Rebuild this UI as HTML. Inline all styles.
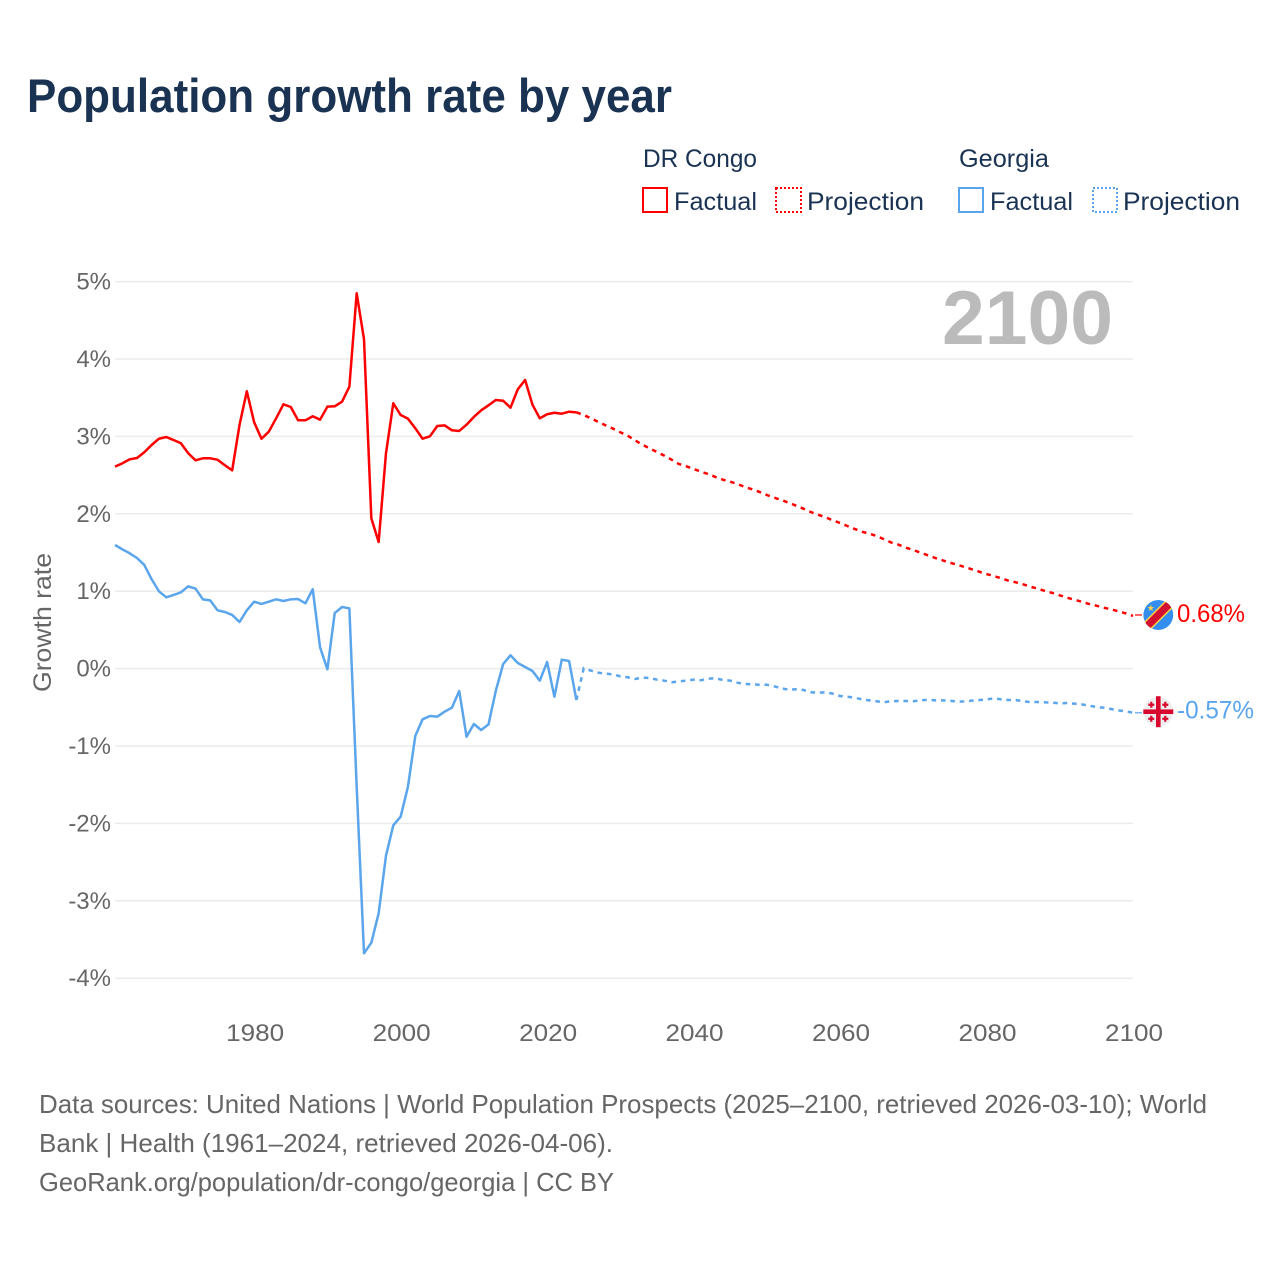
<!DOCTYPE html>
<html lang="en">
<head>
<meta charset="utf-8">
<title>Population growth rate by year</title>
<style>
html,body{margin:0;padding:0;background:#fff;}
svg{display:block;font-family:"Liberation Sans",sans-serif;}
</style>
</head>
<body>
<svg id="chart" xmlns="http://www.w3.org/2000/svg" width="1280" height="1280" viewBox="0 0 1280 1280">
  <rect x="0" y="0" width="1280" height="1280" fill="#fff"/>
  <text x="27" y="112" font-size="47" font-weight="bold" fill="#1a3353" textLength="645" lengthAdjust="spacingAndGlyphs">Population growth rate by year</text>

  <g font-size="25" fill="#1a3353">
    <text x="643" y="167" textLength="114" lengthAdjust="spacingAndGlyphs">DR Congo</text>
    <text x="959" y="167" textLength="90" lengthAdjust="spacingAndGlyphs">Georgia</text>
    <g>
      <rect x="643" y="188" width="24" height="24" fill="none" stroke="#ff0000" stroke-width="2"/>
      <text x="674" y="210" textLength="83" lengthAdjust="spacingAndGlyphs">Factual</text>
    </g>
    <g>
      <rect x="776" y="188" width="25" height="24" fill="none" stroke="#ff0000" stroke-width="2" stroke-dasharray="2 2"/>
      <text x="807" y="210" textLength="117" lengthAdjust="spacingAndGlyphs">Projection</text>
    </g>
    <g>
      <rect x="959" y="188" width="24" height="24" fill="none" stroke="#5aa5ec" stroke-width="2"/>
      <text x="990" y="210" textLength="83" lengthAdjust="spacingAndGlyphs">Factual</text>
    </g>
    <g>
      <rect x="1093" y="188" width="24" height="24" fill="none" stroke="#5aa5ec" stroke-width="2" stroke-dasharray="2 2"/>
      <text x="1123" y="210" textLength="117" lengthAdjust="spacingAndGlyphs">Projection</text>
    </g>
  </g>

  <g id="grid"></g>
  <g id="yAxis"></g>
  <g id="xAxis"></g>
  <text transform="translate(51,692) rotate(-90)" x="0" y="0" font-size="25" fill="#666" textLength="139" lengthAdjust="spacingAndGlyphs">Growth rate</text>
  <text x="942" y="344" font-size="76" font-weight="bold" fill="#bbbbbb" textLength="171" lengthAdjust="spacingAndGlyphs">2100</text>

  <g id="series"></g>

  <defs>
    <clipPath id="flagClip"><circle cx="0" cy="0" r="15"/></clipPath>
  </defs>
  <g id="flagDrc">
    <g clip-path="url(#flagClip)">
      <circle r="15" fill="#348ef0"/>
      <line x1="-18" y1="18" x2="18" y2="-18" stroke="#f7d24a" stroke-width="10.5"/>
      <line x1="-18" y1="18" x2="18" y2="-18" stroke="#d2102f" stroke-width="7.5"/>
    </g>
    <text x="-7.5" y="-4" font-size="9" text-anchor="middle" fill="#f7d24a" font-family="'DejaVu Sans',sans-serif">★</text>
  </g>
  <g id="flagGeo">
    <circle r="15" fill="#eeeeee"/>
    <rect x="-2.3" y="-15.5" width="4.6" height="31" fill="#d9082f"/>
    <rect x="-15" y="-2.3" width="30" height="4.600" fill="#d9082f"/>
    <path d="M-7-10v6M-10-7h6M7-10v6M4-7h6M-7 4v6M-10 7h6M7 4v6M4 7h6" stroke="#d9082f" stroke-width="2.200" fill="none"/>
  </g>
  <text id="labelDrc" x="1177" font-size="25" fill="#ff0000" textLength="68" lengthAdjust="spacingAndGlyphs"></text>
  <text id="labelGeo" x="1177" font-size="25" fill="#5aa5ec" textLength="77" lengthAdjust="spacingAndGlyphs"></text>

  <g font-size="26" fill="#666">
    <text x="39" y="1113" textLength="1168" lengthAdjust="spacingAndGlyphs">Data sources: United Nations | World Population Prospects (2025–2100, retrieved 2026-03-10); World</text>
    <text x="39" y="1152" textLength="574" lengthAdjust="spacingAndGlyphs">Bank | Health (1961–2024, retrieved 2026-04-06).</text>
    <text x="39" y="1191" textLength="575" lengthAdjust="spacingAndGlyphs">GeoRank.org/population/dr-congo/georgia | CC BY</text>
  </g>
</svg>
<script>
var yTicks = [5, 4, 3, 2, 1, 0, -1, -2, -3, -4];
var xTicks = [1980, 2000, 2020, 2040, 2060, 2080, 2100];
var factualStartYear = 1961;
var projectionStartYear = 2024;
var drcFactual = [2.609,2.652,2.704,2.721,2.795,2.889,2.970,2.992,2.953,2.911,2.782,2.691,2.717,2.717,2.699,2.627,2.562,3.147,3.583,3.182,2.970,3.061,3.234,3.415,3.380,3.208,3.208,3.260,3.216,3.384,3.389,3.448,3.642,4.849,4.255,1.942,1.636,2.782,3.428,3.276,3.229,3.105,2.970,3.001,3.134,3.143,3.079,3.070,3.151,3.251,3.337,3.402,3.470,3.461,3.371,3.609,3.729,3.410,3.234,3.286,3.306,3.293,3.319,3.311];
var drcProjection = [3.311,3.276,3.234,3.186,3.143,3.100,3.053,3.009,2.950,2.893,2.846,2.798,2.751,2.699,2.643,2.614,2.579,2.544,2.514,2.475,2.441,2.415,2.385,2.346,2.317,2.282,2.243,2.208,2.178,2.143,2.105,2.066,2.023,1.988,1.955,1.916,1.881,1.842,1.804,1.769,1.743,1.713,1.671,1.629,1.601,1.562,1.532,1.497,1.464,1.429,1.399,1.368,1.342,1.313,1.283,1.252,1.222,1.196,1.167,1.136,1.115,1.089,1.058,1.032,1.003,0.977,0.947,0.916,0.890,0.864,0.835,0.813,0.787,0.766,0.740,0.714,0.680];
var georgiaFactual = [1.597,1.541,1.490,1.429,1.339,1.154,0.999,0.921,0.951,0.986,1.063,1.032,0.895,0.882,0.753,0.731,0.693,0.602,0.753,0.864,0.835,0.864,0.895,0.873,0.895,0.899,0.844,1.025,0.275,-0.009,0.718,0.796,0.779,-1.526,-3.678,-3.541,-3.162,-2.417,-2.025,-1.913,-1.526,-0.871,-0.655,-0.612,-0.621,-0.557,-0.505,-0.289,-0.880,-0.716,-0.793,-0.720,-0.286,0.059,0.172,0.072,0.021,-0.031,-0.156,0.085,-0.363,0.115,0.098,-0.406];
var georgiaProjection = [-0.406,0.004,-0.027,-0.053,-0.066,-0.074,-0.100,-0.112,-0.134,-0.117,-0.121,-0.143,-0.156,-0.177,-0.164,-0.156,-0.143,-0.151,-0.130,-0.125,-0.147,-0.156,-0.182,-0.199,-0.203,-0.208,-0.208,-0.229,-0.255,-0.273,-0.267,-0.276,-0.306,-0.311,-0.306,-0.324,-0.354,-0.363,-0.376,-0.397,-0.410,-0.422,-0.435,-0.422,-0.419,-0.419,-0.422,-0.410,-0.402,-0.410,-0.410,-0.414,-0.428,-0.424,-0.414,-0.406,-0.398,-0.384,-0.398,-0.406,-0.406,-0.422,-0.432,-0.432,-0.436,-0.440,-0.449,-0.445,-0.453,-0.462,-0.479,-0.496,-0.505,-0.522,-0.539,-0.552,-0.570];

var NS = 'http://www.w3.org/2000/svg';
var plotLeft = 115, plotRight = 1133;
function xScale(year) { return plotLeft + (year - 1961) * (plotRight - plotLeft) / (2100 - 1961); }
function yScale(value) { return 668.6 - value * 77.4; }
function make(tag, parent) { var el = document.createElementNS(NS, tag); parent.appendChild(el); return el; }
function pathFor(values, startYear) {
  return values.map(function (v, i) {
    return (i ? 'L' : 'M') + xScale(startYear + i).toFixed(2) + ' ' + yScale(v).toFixed(2);
  }).join('');
}

var grid = document.getElementById('grid');
var yAxis = document.getElementById('yAxis');
yTicks.forEach(function (t) {
  var line = make('line', grid);
  
  
  line.setAttribute('x1', plotLeft);
  line.setAttribute('x2', plotRight);
  line.setAttribute('y1', yScale(t));
  line.setAttribute('y2', yScale(t));
  line.setAttribute('stroke', '#ebebeb');
  line.setAttribute('stroke-width', '1.5');
  var label = make('text', yAxis);
  
  
  label.setAttribute('x', 111);
  label.setAttribute('y', yScale(t) + 8);
  label.setAttribute('text-anchor', 'end');
  label.setAttribute('font-size', '24');
  label.setAttribute('fill', '#666');
  label.textContent = t + '%';
});

var xAxis = document.getElementById('xAxis');
xTicks.forEach(function (t) {
  var label = make('text', xAxis);
  
  
  label.setAttribute('x', xScale(t) - 29 + 1);
  label.setAttribute('y', 1041);
  label.setAttribute('font-size', '24');
  label.setAttribute('fill', '#666');
  label.setAttribute('textLength', '58');
  label.setAttribute('lengthAdjust', 'spacingAndGlyphs');
  label.textContent = t;
});

var series = document.getElementById('series');
var drcColor = '#ff0000', geoColor = '#5aa5ec';

var drcProjLine = make('path', series);


drcProjLine.setAttribute('d', pathFor(drcProjection, projectionStartYear));
drcProjLine.setAttribute('fill', 'none');
drcProjLine.setAttribute('stroke', drcColor);
drcProjLine.setAttribute('stroke-width', '2.5');
drcProjLine.setAttribute('stroke-dasharray', '4.6 4.8');

var geoProjLine = make('path', series);


geoProjLine.setAttribute('d', pathFor(georgiaProjection, projectionStartYear));
geoProjLine.setAttribute('fill', 'none');
geoProjLine.setAttribute('stroke', geoColor);
geoProjLine.setAttribute('stroke-width', '2.5');
geoProjLine.setAttribute('stroke-dasharray', '4.6 4.8');

var drcLine = make('path', series);


drcLine.setAttribute('d', pathFor(drcFactual, factualStartYear));
drcLine.setAttribute('fill', 'none');
drcLine.setAttribute('stroke', drcColor);
drcLine.setAttribute('stroke-width', '2.5');
drcLine.setAttribute('stroke-linejoin', 'round');

var geoLine = make('path', series);


geoLine.setAttribute('d', pathFor(georgiaFactual, factualStartYear));
geoLine.setAttribute('fill', 'none');
geoLine.setAttribute('stroke', geoColor);
geoLine.setAttribute('stroke-width', '2.5');
geoLine.setAttribute('stroke-linejoin', 'round');

var drcEnd = drcProjection[drcProjection.length - 1];
var geoEnd = georgiaProjection[georgiaProjection.length - 1];

var drcLeader = make('line', series);


drcLeader.setAttribute('x1', plotRight + 2);
drcLeader.setAttribute('x2', 1142);
drcLeader.setAttribute('y1', yScale(drcEnd) - 1);
drcLeader.setAttribute('y2', yScale(drcEnd) - 1);
drcLeader.setAttribute('stroke', drcColor);
drcLeader.setAttribute('stroke-width', '1.5');
drcLeader.setAttribute('opacity', '0.8');

var geoLeader = make('line', series);


geoLeader.setAttribute('x1', plotRight + 2);
geoLeader.setAttribute('x2', 1142);
geoLeader.setAttribute('y1', yScale(geoEnd));
geoLeader.setAttribute('y2', yScale(geoEnd));
geoLeader.setAttribute('stroke', geoColor);
geoLeader.setAttribute('stroke-width', '1.5');
geoLeader.setAttribute('opacity', '0.8');

document.getElementById('flagDrc').setAttribute('transform', 'translate(1158.3,' + (yScale(drcEnd) - 1) + ')');
document.getElementById('flagGeo').setAttribute('transform', 'translate(1158.3,' + (yScale(geoEnd) - 1) + ')');

var labelDrc = document.getElementById('labelDrc');
labelDrc.setAttribute('y', yScale(drcEnd) + 6);
labelDrc.textContent = drcEnd.toFixed(2) + '%';
var labelGeo = document.getElementById('labelGeo');
labelGeo.setAttribute('y', yScale(geoEnd) + 6);
labelGeo.textContent = geoEnd.toFixed(2) + '%';
</script>
</body>
</html>
